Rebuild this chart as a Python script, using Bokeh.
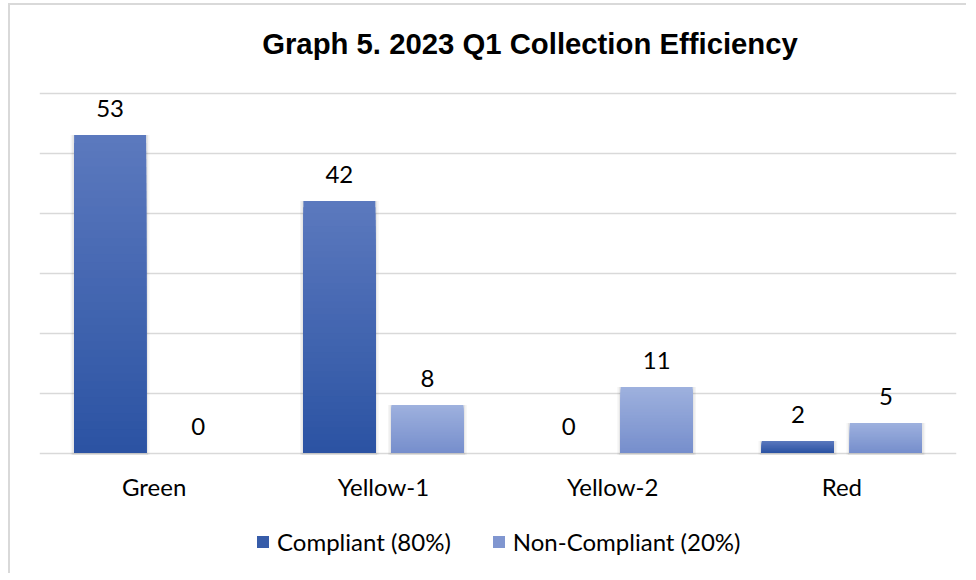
from bokeh.plotting import figure
from bokeh.models import (ColumnDataSource, FactorRange, Range1d, LabelSet, Label,
                          Legend, LegendItem, SingleIntervalTicker)
from bokeh.core.properties import value
from bokeh.transform import dodge
from bokeh.embed import file_html
from bokeh.resources import INLINE

categories = ["Green", "Yellow-1", "Yellow-2", "Red"]
compliant = [53, 42, 0, 2]
non_compliant = [0, 8, 11, 5]
series_names = ["Compliant (80%)", "Non-Compliant (20%)"]
title_text = "Graph 5. 2023 Q1 Collection Efficiency"

FONT = "Lato"
FS = "24px"
W, H = 958, 570
PX_PER_UNIT = 6.0
ZERO_FROM_TOP = 447.5          # canvas px from top where value 0 sits
y_top = ZERO_FROM_TOP / PX_PER_UNIT
y_bot = -(H - ZERO_FROM_TOP) / PX_PER_UNIT

p = figure(width=W, height=H, x_range=FactorRange(*categories, range_padding=0),
           y_range=Range1d(y_bot, y_top), output_backend="svg", toolbar_location=None,
           min_border_left=29, min_border_right=12, min_border_top=0, min_border_bottom=0)
p.styles = {"border-left": "2px solid #D9D9D9", "border-top": "2px solid #D9D9D9",
            "margin-left": "8px", "margin-top": "3px"}
p.outline_line_color = None
p.background_fill_color = "white"
p.border_fill_color = "white"

p.xaxis.visible = False
p.yaxis.visible = False
p.ygrid.ticker = SingleIntervalTicker(interval=10, num_minor_ticks=0)
p.ygrid.bounds = (0, 60)
p.ygrid.grid_line_color = "#D9D9D9"
p.ygrid.grid_line_width = 1.5
p.xgrid.grid_line_color = None


def lerp(c1, c2, t):
    return "#%02x%02x%02x" % tuple(int(round(a + (b - a) * t)) for a, b in zip(c1, c2))


N = 40
BAR_W = 0.314
offsets = [-0.192, 0.192]
grad = [((43, 83, 163), (92, 121, 190)), ((118, 142, 204), (158, 177, 222))]
series_vals = [compliant, non_compliant]
legend_items = []
for s, vals in enumerate(series_vals):
    # soft shadow behind each bar
    shsrc = ColumnDataSource(dict(cat=[c for c, v in zip(categories, vals) if v > 0],
                                  top=[v for v in vals if v > 0]))
    for extra, alpha in ((0.03, 0.04), (0.016, 0.06)):
        p.vbar(x=dodge("cat", offsets[s], range=p.x_range), top="top", bottom=-0.35,
               width=BAR_W + extra, fill_color="#000000", fill_alpha=alpha,
               line_color=None, source=shsrc)

    cats, tops, cols = [], [], []
    for k in range(N):
        frac = (N - k) / N
        for c, v in zip(categories, vals):
            if v <= 0:
                continue
            cats.append(c)
            tops.append(v * frac)
            cols.append(lerp(grad[s][0], grad[s][1], frac - 0.5 / N))
    src = ColumnDataSource(dict(cat=cats, top=tops, color=cols))
    r = p.vbar(x=dodge("cat", offsets[s], range=p.x_range), top="top", bottom=0,
               width=BAR_W, fill_color="color", line_color=None, source=src)
    legend_items.append(LegendItem(label=series_names[s], renderers=[r],
                                   index=(len(cats) * 3) // 4))

    lsrc = ColumnDataSource(dict(cat=categories, val=vals, txt=[str(v) for v in vals]))
    p.add_layout(LabelSet(x=dodge("cat", offsets[s], range=p.x_range), y="val", text="txt",
                          source=lsrc, text_align="center", text_baseline="alphabetic",
                          y_offset=18, text_font=value(FONT), text_font_size=value(FS),
                          text_color="#000000"))

# category labels (x axis)
csrc = ColumnDataSource(dict(cat=categories, zero=[0] * len(categories)))
p.add_layout(LabelSet(x="cat", y="zero", text="cat", source=csrc, text_align="center",
                      text_baseline="middle", y_offset=-33, text_font=value(FONT),
                      text_font_size=value(FS), text_color="#000000"))

legend = Legend(items=legend_items, orientation="horizontal", location=(216, 19),
                glyph_width=15, glyph_height=15, label_standoff=7, spacing=40,
                padding=0, margin=0, border_line_color=None, background_fill_alpha=0,
                label_text_font=FONT, label_text_font_size=FS, label_text_color="#000000")
p.add_layout(legend, "center")

p.add_layout(Label(x=490.5, y=H - 38, x_units="screen", y_units="screen", text=title_text,
                   text_font="Liberation Sans", text_font_style="bold",
                   text_font_size="29.3px", text_align="center", text_baseline="alphabetic",
                   text_color="#000000"))

open("out.html", "w").write(file_html(p, INLINE))
